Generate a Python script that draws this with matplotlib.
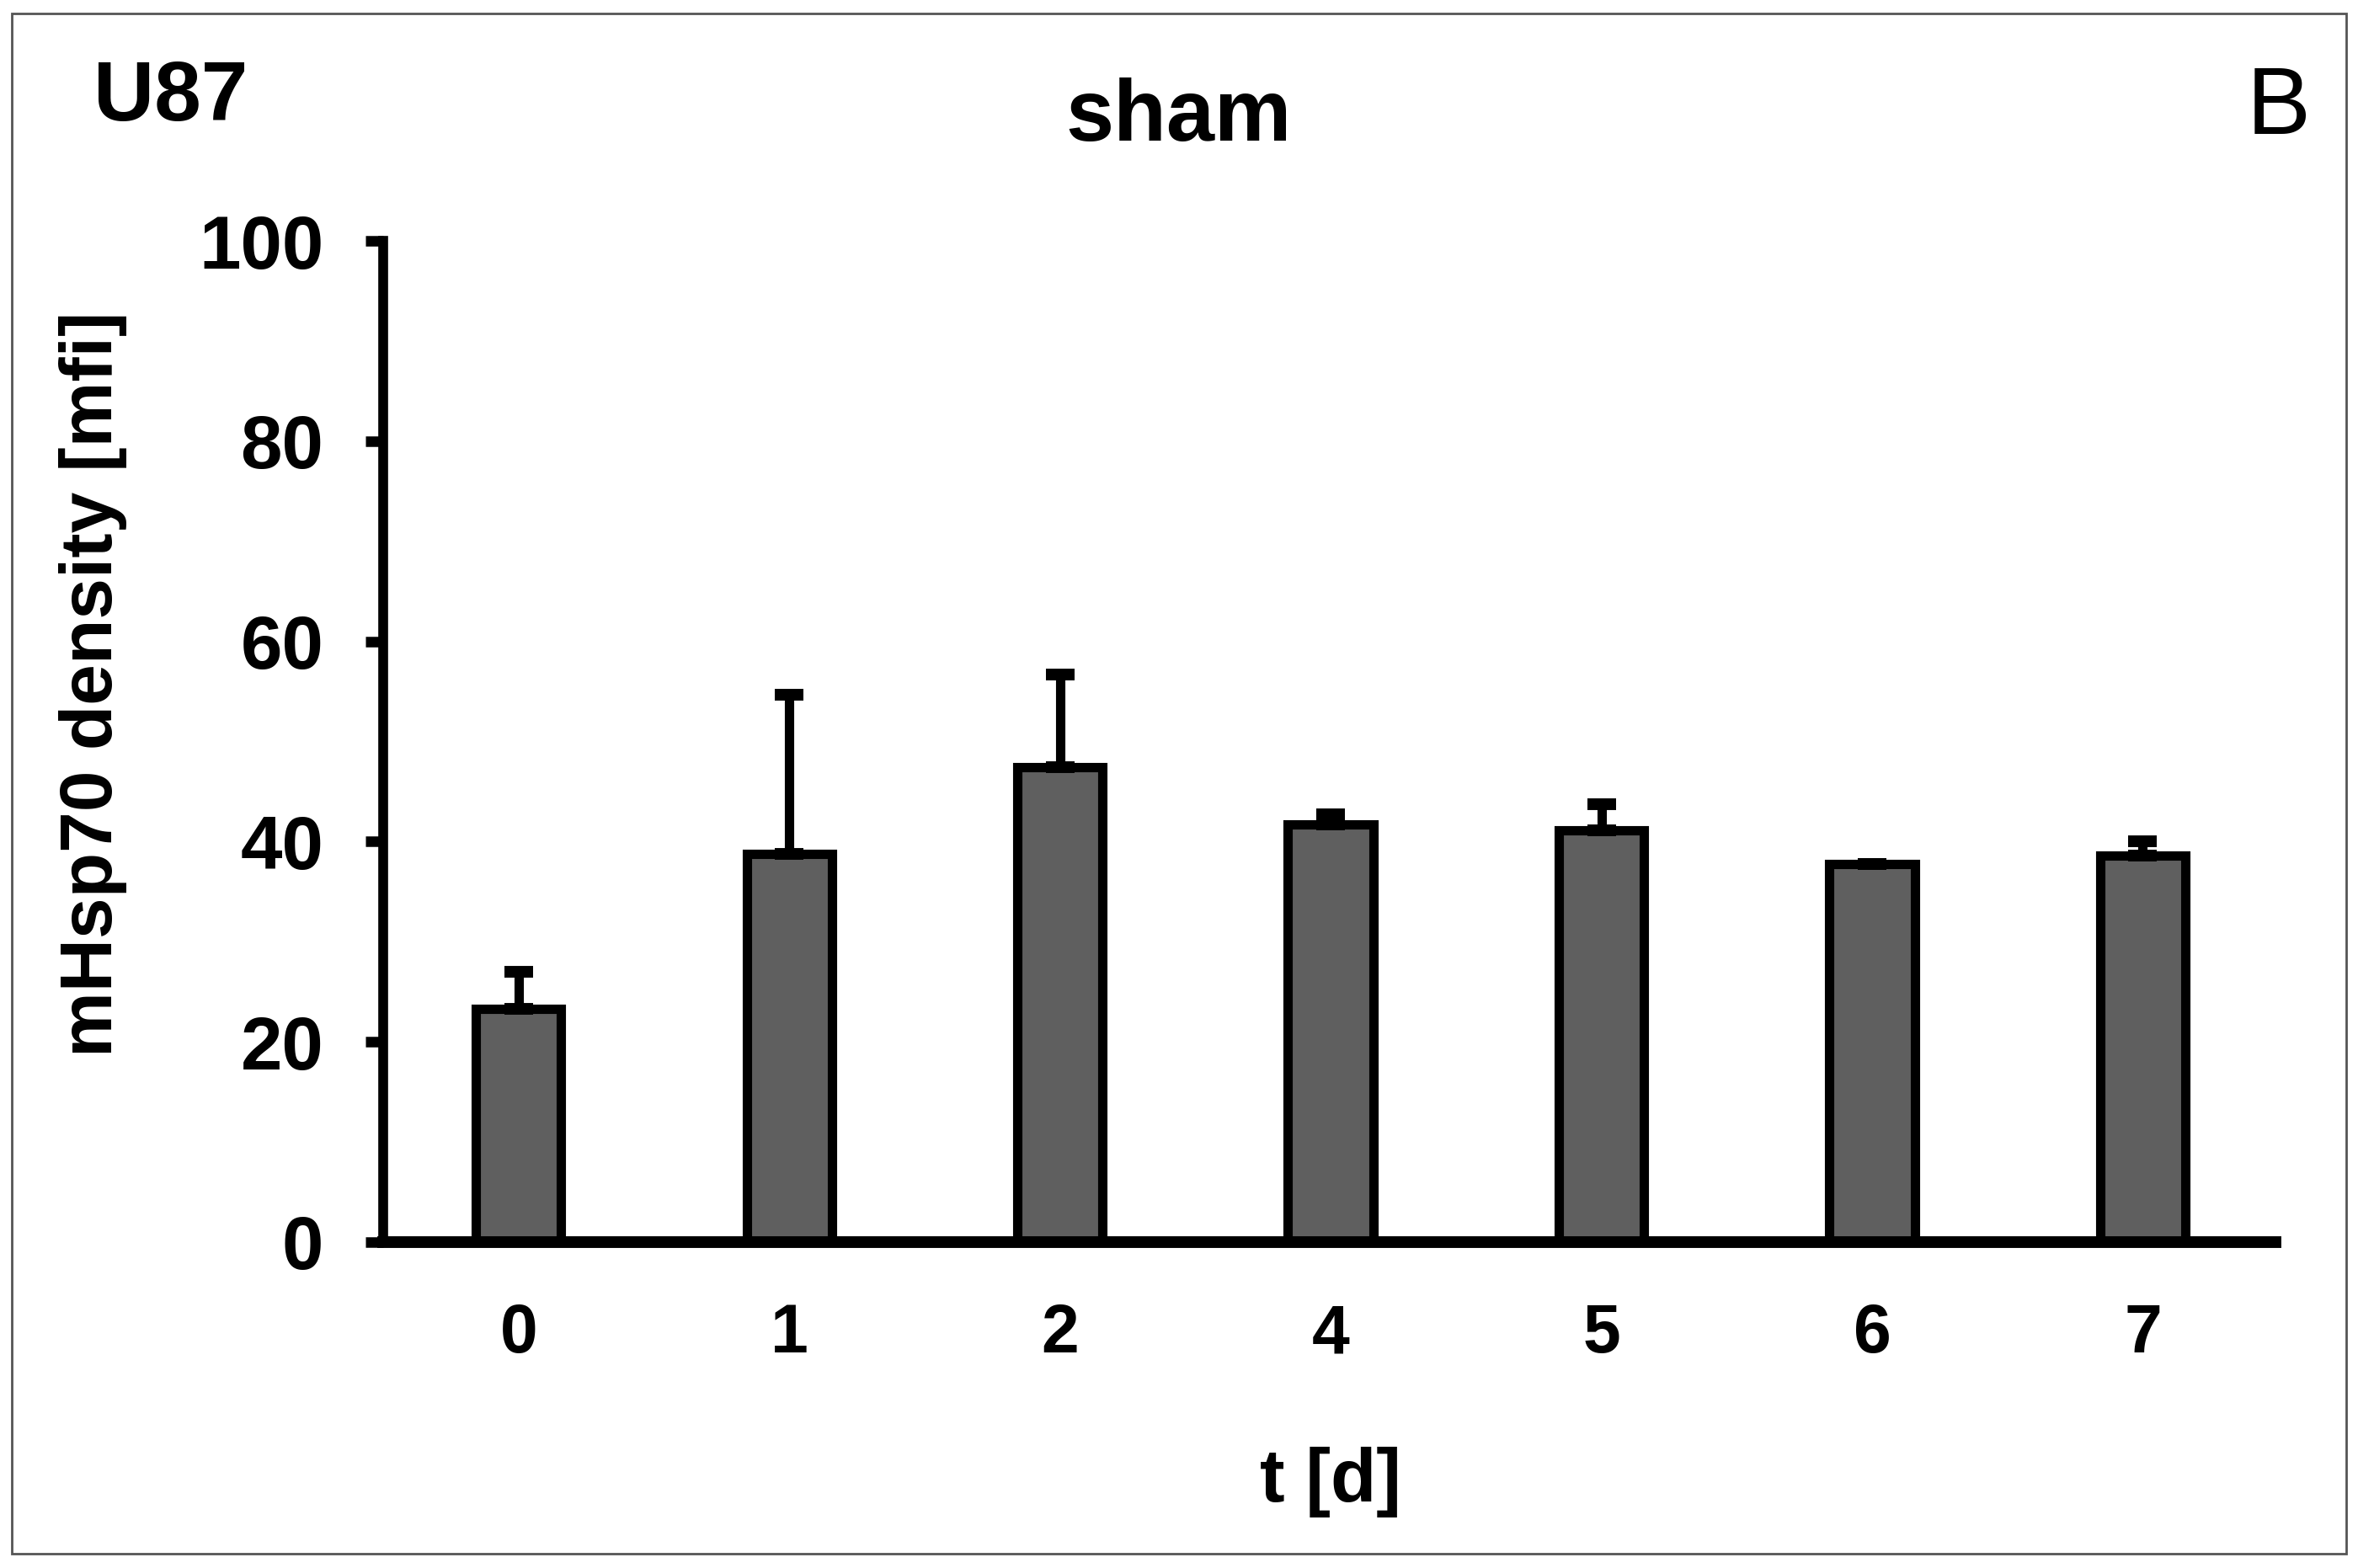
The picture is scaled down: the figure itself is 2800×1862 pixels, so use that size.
import matplotlib
matplotlib.use("Agg")
import matplotlib.pyplot as plt
from matplotlib.patches import Rectangle
import numpy as np

plt.rcParams['font.family'] = ['Liberation Sans', 'DejaVu Sans']

days = ['0', '1', '2', '4', '5', '6', '7']
density = [23.3, 38.8, 47.4, 41.7, 41.1, 37.8, 38.6]
err_up = [3.7, 15.9, 9.3, 1.0, 2.6, 0.0, 1.4]

W, H = 2800, 1862
fig = plt.figure(figsize=(14, 9.31), dpi=200)

def fx(px):
    return px / W

def fy(py):
    return 1 - py / H

# thin frame around the panel
fig.patches.append(Rectangle((fx(14), fy(1845)), fx(2786) - fx(14), fy(16) - fy(1845),
                             transform=fig.transFigure, fill=False,
                             edgecolor='#555555', linewidth=1.0))

ax = fig.add_axes([fx(455), fy(1475), fx(2702) - fx(455), fy(286) - fy(1475)])

x = np.arange(len(days))
ax.bar(x, density, width=0.315, color='#5f5f5f', edgecolor='black', linewidth=4.0,
       yerr=[np.zeros(len(err_up)), err_up], capsize=6,
       error_kw=dict(elinewidth=4.0, capthick=5.0, ecolor='black'), zorder=2)

ax.set_xlim(-0.5, 6.49)
ax.set_ylim(0, 100)
ax.set_yticks([0, 20, 40, 60, 80, 100])
ax.set_xticks(x)
ax.set_xticklabels(days)

for s in ['top', 'right']:
    ax.spines[s].set_visible(False)
ax.spines['left'].set_linewidth(4.2)
ax.spines['bottom'].set_linewidth(5.0)
ax.spines['bottom'].set_zorder(3)

ax.tick_params(axis='y', length=7.5, width=4.5, pad=18, labelsize=32, direction='out')
ax.tick_params(axis='x', length=0, pad=26, labelsize=29)
for lab in ax.get_xticklabels() + ax.get_yticklabels():
    lab.set_fontweight('bold')

fig.text(fx(111), fy(143), 'U87', fontsize=36, fontweight='bold', ha='left', va='baseline')
fig.text(fx(1400), fy(167), 'sham', fontsize=37, fontweight='bold', ha='center', va='baseline')
fig.text(fx(2668), fy(159), 'B', fontsize=41, ha='left', va='baseline')
fig.text(fx(1580), fy(1783), 't [d]', fontsize=32, fontweight='bold', ha='center', va='baseline')
fig.text(fx(111), fy(812), 'mHsp70 density [mfi]', fontsize=31.5, fontweight='bold',
         rotation=90, ha='center', va='center')

fig.savefig('out.png', dpi=200, facecolor='white')
